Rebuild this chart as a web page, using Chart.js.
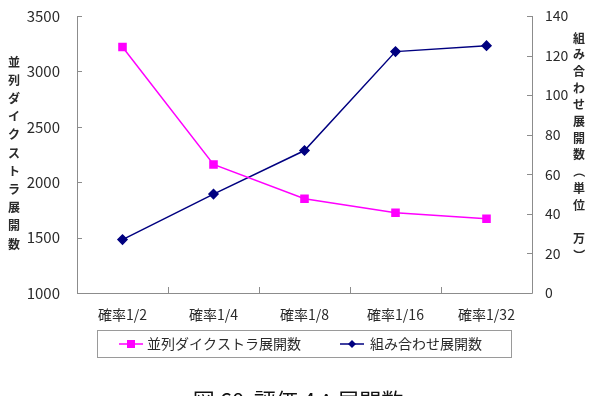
<!DOCTYPE html>
<html>
<head>
<meta charset="utf-8">
<script src="https://cdn.jsdelivr.net/npm/chart.js@4/dist/chart.umd.min.js"></script>
<style>
  html, body { margin: 0; padding: 0; background: #fff; }
  #wrap { width: 592px; height: 396px; position: relative; }
</style>
</head>
<body>
<div id="wrap"><canvas id="chart" width="592" height="396"></canvas></div>
<script>
// data
const categories = ["確率1/2", "確率1/4", "確率1/8", "確率1/16", "確率1/32"];
const dijkstraLabel = "並列ダイクストラ展開数";
const dijkstraValues = [3220, 2160, 1850, 1725, 1670];
const comboLabel = "組み合わせ展開数";
const comboValues = [27, 50, 72, 122, 125];
const leftTitle = "並列ダイクストラ展開数";
const rightTitle = "組み合わせ展開数（単位　万）";
const caption = "図 60  評価 4：展開数";

const FONT = "'Noto Sans CJK JP', 'DejaVu Sans', sans-serif";
const PINK = "#ff00ff";
const NAVY = "#000080";
const AXIS = "#8c8c8c";
const TEXT = "#2a2a2a";

function drawMarker(ctx, style, x, y, color) {
  ctx.fillStyle = color;
  if (style === "rect") {
    ctx.fillRect(x - 4, y - 4, 8, 8);
  } else {
    ctx.beginPath(); ctx.moveTo(x, y - 4); ctx.lineTo(x + 4, y); ctx.lineTo(x, y + 4); ctx.lineTo(x - 4, y); ctx.closePath(); ctx.fill();
  }
}

// inside tick marks, axis lines, vertical titles, legend, caption
const decor = {
  id: "decor",
  afterDraw(chart) {
    const ctx = chart.ctx;
    const a = chart.chartArea;
    const x = chart.scales.x, yl = chart.scales.y, yr = chart.scales.y2;
    ctx.save();
    ctx.strokeStyle = AXIS;
    ctx.lineWidth = 1;
    ctx.beginPath();
    ctx.moveTo(a.left + 0.5, a.top); ctx.lineTo(a.left + 0.5, a.bottom + 0.5);
    ctx.lineTo(a.right + 0.5, a.bottom + 0.5); ctx.lineTo(a.right + 0.5, a.top);
    yl.ticks.forEach((t, i) => {
      const p = Math.round(yl.getPixelForTick(i)) + 0.5;
      ctx.moveTo(a.left, p); ctx.lineTo(a.left + 5, p);
    });
    yr.ticks.forEach((t, i) => {
      const p = Math.round(yr.getPixelForTick(i)) + 0.5;
      ctx.moveTo(a.right - 5, p); ctx.lineTo(a.right, p);
    });
    for (let i = 1; i < categories.length; i++) {
      const p = Math.round((x.getPixelForValue(i - 1) + x.getPixelForValue(i)) / 2) + 0.5;
      ctx.moveTo(p, a.bottom); ctx.lineTo(p, a.bottom - 6);
    }
    ctx.stroke();

    // vertical stacked titles
    ctx.fillStyle = TEXT;
    ctx.font = "bold 12px " + FONT;
    ctx.textAlign = "center";
    ctx.textBaseline = "middle";
    [...leftTitle].forEach((ch, i) => ctx.fillText(ch, 14, 62 + i * 18.2));
    [...rightTitle].forEach((ch, i) => {
      const cy = 38 + i * 16.7;
      if (ch === "（" || ch === "）") {
        ctx.save(); ctx.translate(579, cy); ctx.rotate(Math.PI / 2);
        ctx.fillText(ch, 0, 0); ctx.restore();
      } else {
        ctx.fillText(ch, 579, cy);
      }
    });

    // legend with frame
    ctx.strokeStyle = "#9a9a9a";
    ctx.strokeRect(97.5, 330.5, 414, 27);
    ctx.font = "14px " + FONT;
    ctx.textAlign = "left";
    const items = [
      { ds: chart.data.datasets[0], x0: 119, tx: 147, style: "rect" },
      { ds: chart.data.datasets[1], x0: 340, tx: 370, style: "diamond" }
    ];
    items.forEach(it => {
      const ly = 344;
      ctx.strokeStyle = it.ds.borderColor;
      ctx.lineWidth = 1.5;
      ctx.beginPath(); ctx.moveTo(it.x0, ly); ctx.lineTo(it.x0 + 24, ly); ctx.stroke();
      drawMarker(ctx, it.style, it.x0 + 12, ly, it.ds.borderColor);
      ctx.fillStyle = TEXT;
      ctx.fillText(it.ds.label, it.tx, ly);
    });

    // caption (clipped by the picture edge)
    ctx.fillStyle = "#111";
    ctx.font = "22px " + FONT;
    ctx.textAlign = "center";
    ctx.textBaseline = "top";
    ctx.fillText(caption, 298, 390);
    ctx.restore();
  }
};

new Chart(document.getElementById("chart"), {
  type: "line",
  data: {
    labels: categories,
    datasets: [
      {
        label: dijkstraLabel, data: dijkstraValues, yAxisID: "y",
        borderColor: PINK, backgroundColor: PINK, borderWidth: 1.5,
        pointStyle: "rect", pointRadius: 5, pointHoverRadius: 5, tension: 0
      },
      {
        label: comboLabel, data: comboValues, yAxisID: "y2",
        borderColor: NAVY, backgroundColor: NAVY, borderWidth: 1.5,
        pointStyle: "rectRot", pointRadius: 4.5, pointHoverRadius: 4.5, tension: 0
      }
    ]
  },
  options: {
    responsive: false,
    animation: false,
    events: [],
    layout: { padding: { top: 16, left: 0, right: 0, bottom: 0 } },
    plugins: {
      tooltip: { enabled: false },
      legend: { display: false }
    },
    scales: {
      x: {
        offset: true,
        grid: { display: false, drawTicks: false },
        border: { display: false },
        ticks: { color: TEXT, font: { family: FONT, size: 14 }, padding: 13, maxRotation: 0 },
        afterFit(s) { s.height = 103; s.paddingLeft = 0; s.paddingRight = 0; }
      },
      y: {
        position: "left",
        min: 1000, max: 3500,
        grid: { display: false, drawTicks: false },
        border: { display: false },
        ticks: {
          stepSize: 500, color: TEXT, font: { family: FONT, size: 15 }, padding: 17,
          callback: v => String(v)
        },
        afterFit(s) { s.width = 77; s.paddingTop = 0; s.paddingBottom = 0; }
      },
      y2: {
        position: "right",
        min: 0, max: 140,
        grid: { display: false, drawTicks: false },
        border: { display: false },
        ticks: {
          stepSize: 20, color: TEXT, font: { family: FONT, size: 14 }, padding: 13,
          callback: v => String(v)
        },
        afterFit(s) { s.width = 60; s.paddingTop = 0; s.paddingBottom = 0; }
      }
    }
  },
  plugins: [decor]
});
</script>
</body>
</html>
